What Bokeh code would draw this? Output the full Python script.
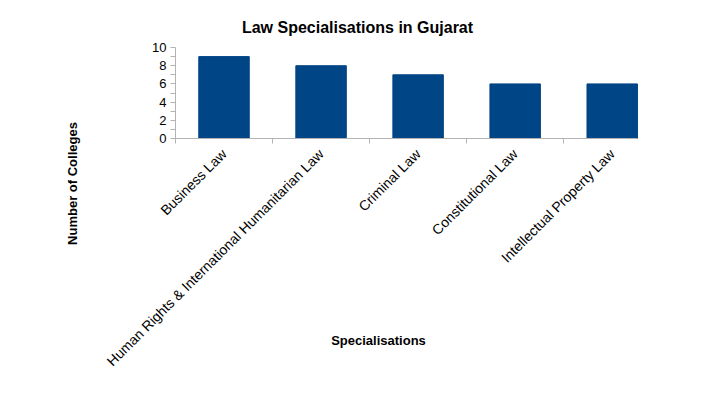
import math
from bokeh.plotting import figure
from bokeh.models import Range1d, FixedTicker, Label, LinearAxis
from bokeh.embed import file_html
from bokeh.resources import INLINE

categories = ["Business Law", "Human Rights & International Humanitarian Law",
              "Criminal Law", "Constitutional Law", "Intellectual Property Law"]
colleges = [9, 8, 7, 6, 6]
y_ticks = [0, 2, 4, 6, 8, 10]
y_minor_ticks = [1, 3, 5, 7, 9]

FONT = "Liberation Sans"
W, H = 698, 379
positions = [i + 0.5 for i in range(len(categories))]
X_END = 4.76  # visible end of category axis
Y_END = 10

# frame covers the whole canvas; axes are pinned inside it
p = figure(width=W, height=H, output_backend="svg", toolbar_location=None,
           x_range=Range1d(-1.803, 5.389), y_range=Range1d(-26.48, 15.165),
           x_axis_location=None, y_axis_location=None,
           min_border_left=0, min_border_right=0, min_border_top=0, min_border_bottom=0)
p.outline_line_color = None
p.background_fill_color = "white"
p.xgrid.visible = False
p.ygrid.visible = False

p.vbar(x=positions, top=colleges, width=0.52, color="#004586")

xaxis = LinearAxis(fixed_location=0, bounds=(0, X_END))
xaxis.ticker = FixedTicker(ticks=positions, minor_ticks=list(range(len(categories))))
xaxis.major_label_overrides = {pos: c for pos, c in zip(positions, categories)}
xaxis.major_label_orientation = math.pi / 4
xaxis.major_tick_line_color = None
xaxis.minor_tick_out = 5
xaxis.minor_tick_in = 0
xaxis.minor_tick_line_color = "#b3b3b3"
xaxis.axis_line_color = "#b3b3b3"
xaxis.major_label_text_font = FONT
xaxis.major_label_text_font_size = "14px"
xaxis.major_label_text_color = "#000000"
xaxis.major_label_standoff = 7
p.add_layout(xaxis, "below")

yaxis = LinearAxis(fixed_location=0, bounds=(0, Y_END))
yaxis.ticker = FixedTicker(ticks=y_ticks, minor_ticks=y_minor_ticks)
yaxis.major_tick_out = 5
yaxis.major_tick_in = 0
yaxis.minor_tick_out = 5
yaxis.minor_tick_in = 0
yaxis.major_tick_line_color = "#b3b3b3"
yaxis.minor_tick_line_color = "#b3b3b3"
yaxis.axis_line_color = "#b3b3b3"
yaxis.major_label_text_font = FONT
yaxis.major_label_text_font_size = "13px"
yaxis.major_label_text_color = "#000000"
yaxis.major_label_standoff = 4
p.add_layout(yaxis, "left")

p.add_layout(Label(x=357, y=H - 27, x_units="screen", y_units="screen",
                   text="Law Specialisations in Gujarat", text_align="center",
                   text_baseline="middle", text_font=FONT, text_font_style="bold",
                   text_font_size="16px", text_color="#000000"))
p.add_layout(Label(x=72, y=H - 183, x_units="screen", y_units="screen",
                   text="Number of Colleges", angle=math.pi / 2, text_align="center",
                   text_baseline="middle", text_font=FONT, text_font_style="bold",
                   text_font_size="13px", text_color="#000000"))
p.add_layout(Label(x=378, y=H - 340, x_units="screen", y_units="screen",
                   text="Specialisations", text_align="center",
                   text_baseline="middle", text_font=FONT, text_font_style="bold",
                   text_font_size="13px", text_color="#000000"))

open("out.html", "w").write(file_html(p, INLINE))
